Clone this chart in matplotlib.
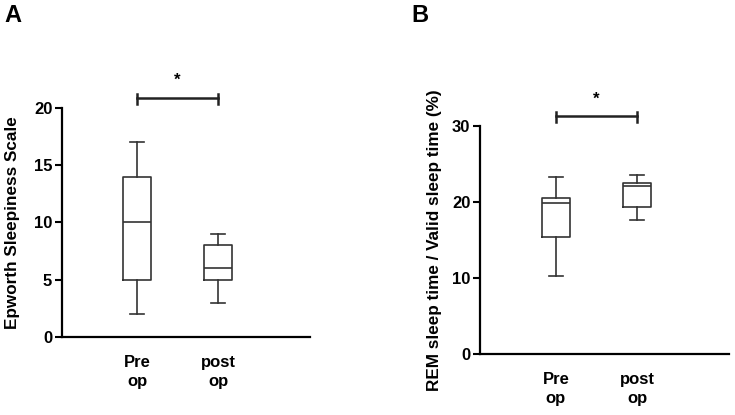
import matplotlib
matplotlib.use("Agg")
import matplotlib.pyplot as plt

plt.rcParams['font.family'] = ['Liberation Sans', 'DejaVu Sans']
plt.rcParams['font.weight'] = 'bold'

groups = ["Pre\nop", "post\nop"]

# panel A: Epworth Sleepiness Scale (whisker low, q1, median, q3, whisker high)
ess_low = [2, 3]
ess_q1 = [5, 5]
ess_med = [10, 6]
ess_q3 = [14, 8]
ess_high = [17, 9]

# panel B: REM sleep time / valid sleep time (%)
rem_low = [10.2, 17.6]
rem_q1 = [15.35, 19.35]
rem_med = [19.9, 22.05]
rem_q3 = [20.5, 22.5]
rem_high = [23.3, 23.6]


def make_stats(low, q1, med, q3, high):
    stats = []
    for i in range(len(low)):
        stats.append(dict(whislo=low[i], q1=q1[i], med=med[i], q3=q3[i],
                          whishi=high[i], fliers=[]))
    return stats


def draw_panel(ax, stats, ymax, yticks, ylabel, bar_y, cap_h, star_y, label_x):
    ax.bxp(stats, positions=[1, 2], widths=0.34, capwidths=0.17,
           showfliers=False, patch_artist=False,
           boxprops=dict(color='#333333', linewidth=1.2),
           medianprops=dict(color='#333333', linewidth=1.2),
           whiskerprops=dict(color='#333333', linewidth=1.2),
           capprops=dict(color='#333333', linewidth=1.2))
    ax.set_ylim(0, ymax)
    ax.set_yticks(yticks)
    ax.set_xticks([1, 2])
    ax.set_xticklabels(groups, fontsize=12, fontweight='bold', linespacing=1.35)
    ax.tick_params(axis='x', length=0, pad=13)
    ax.tick_params(axis='y', length=5, width=1.5, labelsize=12, pad=2)
    for s in ['top', 'right']:
        ax.spines[s].set_visible(False)
    for s in ['left', 'bottom']:
        ax.spines[s].set_linewidth(1.6)
    ax.set_ylabel(ylabel, fontsize=12.3, fontweight='bold')
    ax.yaxis.set_label_coords(label_x, 0.5)
    # significance bar
    ax.plot([1, 2], [bar_y, bar_y], color='#222222', lw=1.8, clip_on=False)
    for xp in [1, 2]:
        ax.plot([xp, xp], [bar_y - cap_h * 0.55, bar_y + cap_h * 0.45],
                color='#222222', lw=1.8, clip_on=False)
    ax.text(1.5, star_y, '*', ha='center', va='center', fontsize=12,
            fontweight='bold')


fig = plt.figure(figsize=(7.35, 4.15), dpi=100)

W, H = 735.0, 415.0
axA = fig.add_axes([62 / W, (H - 337) / H, (310 - 62) / W, (337 - 108) / H])
axA.set_xlim(1 - 75 / 81, 2 + 92 / 81)
draw_panel(axA, make_stats(ess_low, ess_q1, ess_med, ess_q3, ess_high),
           20, [0, 5, 10, 15, 20], 'Epworth Sleepiness Scale',
           20.87, 0.87, 22.4, -0.17)

axB = fig.add_axes([480 / W, (H - 354) / H, (729 - 480) / W, (354 - 126) / H])
axB.set_xlim(1 - 76 / 81, 2 + 92 / 81)
draw_panel(axB, make_stats(rem_low, rem_q1, rem_med, rem_q3, rem_high),
           30, [0, 10, 20, 30], 'REM sleep time / Valid sleep time (%)',
           31.3, 1.3, 33.5, -0.153)

fig.text(4 / W, 1 - 15 / H, 'A', fontsize=17, fontweight='bold',
         ha='left', va='center')
fig.text(411 / W, 1 - 15 / H, 'B', fontsize=17, fontweight='bold',
         ha='left', va='center')

fig.savefig('out.png', dpi=100)
